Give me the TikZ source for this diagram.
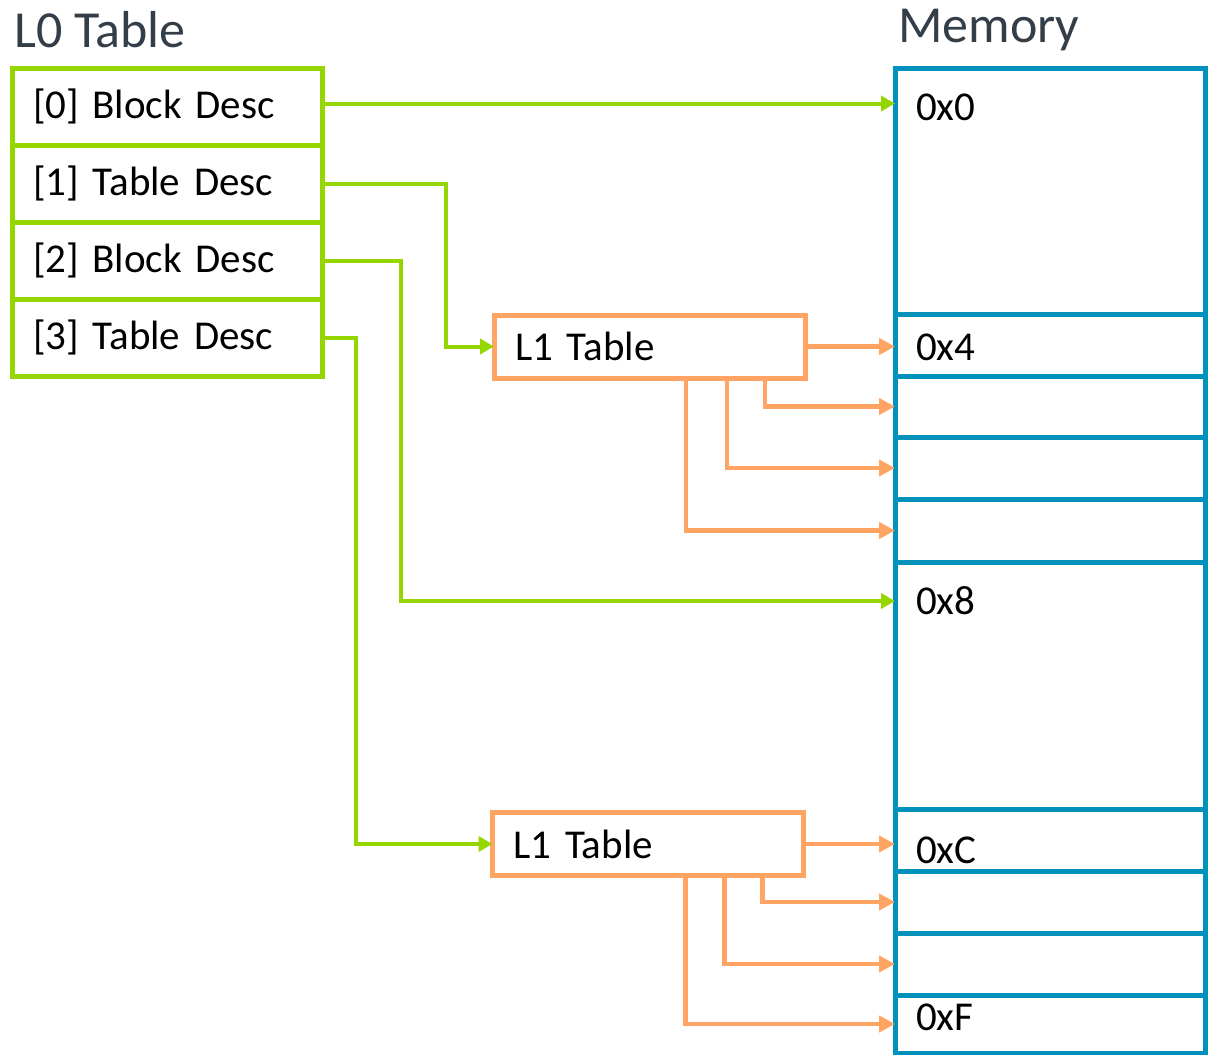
\documentclass[tikz,border=0pt]{standalone}
\usepackage{fontspec}
\setmainfont{Carlito}
\usetikzlibrary{arrows.meta}

\definecolor{descgreen}{HTML}{95D600}
\definecolor{memblue}{HTML}{0091BD}
\definecolor{tblorange}{HTML}{FFA463}
\definecolor{titlegray}{HTML}{333E48}

\tikzset{
  desc/.style={draw=descgreen, line width=5pt, minimum height=77pt, text width=268pt,
    align=left, inner xsep=21pt, inner ysep=0pt, outer sep=0pt,
    font=\fontsize{41}{49}\selectfont},
  ltable/.style={draw=tblorange, line width=5pt, minimum height=63pt, text width=269pt,
    align=left, inner xsep=21pt, inner ysep=0pt, outer sep=0pt, fill=white,
    font=\fontsize{41}{49}\selectfont},
  memcell/.style={draw=memblue, line width=5pt, minimum width=310pt, inner sep=0pt, outer sep=0pt},
  memlabel/.style={anchor=west, inner sep=0pt, font=\fontsize{41}{49}\selectfont},
  title/.style={anchor=west, inner sep=0pt, text=titlegray, font=\fontsize{52}{62}\selectfont},
  greenarrow/.style={draw=descgreen, line width=4pt, -{Triangle[length=14pt,width=15pt]}},
  orangearrow/.style={draw=tblorange, line width=4.5pt, -{Triangle[length=16pt,width=16pt]}}
}

\begin{document}
\begin{tikzpicture}[x=1pt, y=-1pt]
        \useasboundingbox (0,0) rectangle (1216,1055);

        % Titles
        \node[title] (l0title) at (14,30) {L0 Table};
        \node[title] (memtitle) at (898,30) {Memory};

        % Memory cells
        \foreach \n/\ya/\yb in {0/68/314,1/314/376,2/376/437,3/437/499,4/499/562,
                                5/562/809,6/809/871,7/871/933,8/933/995,9/995/1053} {
            \pgfmathsetmacro{\h}{\yb-\ya}
            \node[memcell, minimum height=\h pt, anchor=north west] (m\n) at (895,\ya) {};
        }
        \node[memlabel] (lab0) at (916,107) {0x0};
        \node[memlabel] (lab4) at (916,347) {0x4};
        \node[memlabel] (lab8) at (916,601) {0x8};
        \node[memlabel] (labC) at (916,850) {0xC};
        \node[memlabel] (labF) at (916,1017) {0xF};

        % L0 table entries
        \foreach \i/\kind in {0/Block,1/Table,2/Block,3/Table} {
            \node[desc] (r\i) at (167,{106.5+77*\i}) {[\i] \kind\ Desc};
        }

        % L1 tables
        \node[ltable] (l1a) at (649.5,346.5) {L1 Table};
        \node[ltable] (l1b) at (648,844) {L1 Table};

        % Draw the descriptor pointers
        \draw[greenarrow] ([yshift=3pt]r0.east) -- ([yshift=3pt]r0.east -| m0.west);
        \draw[greenarrow] (r1.east) -- ++(124,0) |- (l1a.west);
        \draw[greenarrow] (r2.east) -- ++(79,0) |- (m5.west |- lab8);
        \draw[greenarrow] (r3.east) -- ++(34,0) |- (l1b.west);

        % Draw the L1 entries into memory
        \draw[orangearrow] (l1a.east) -- (l1a.east -| m1.west);
        \foreach \d/\c in {40/2,78/3,119/4}
            \draw[orangearrow] ([xshift=-\d pt]l1a.south east) |- (m\c.west);
        \draw[orangearrow] (l1b.east) -- (l1b.east -| m6.west);
        \foreach \d/\c in {41/7,79/8,118/9}
            \draw[orangearrow] ([xshift=-\d pt]l1b.south east) |- (m\c.west);
    \end{tikzpicture}
\end{document}
